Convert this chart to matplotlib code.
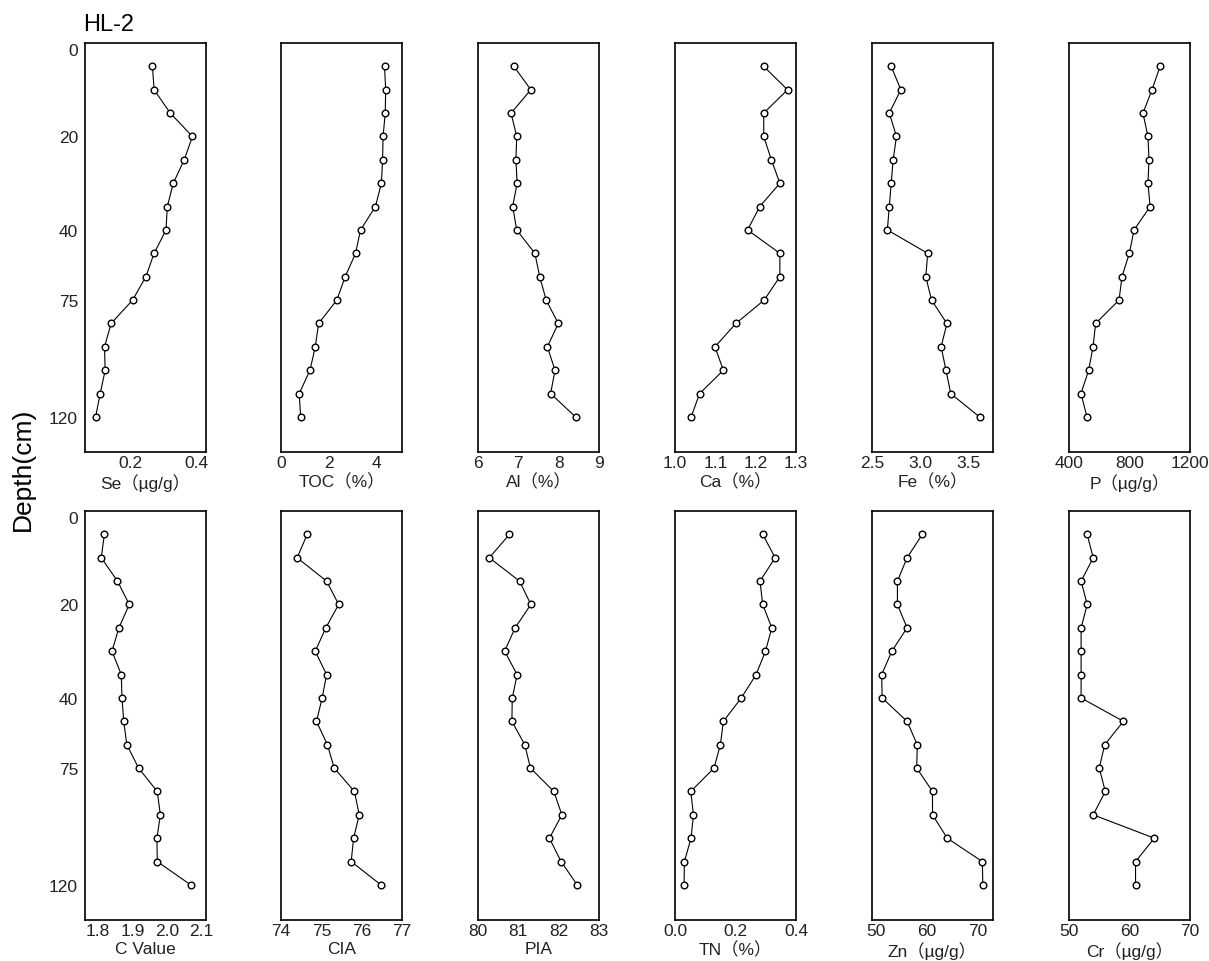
import matplotlib
matplotlib.use("Agg")
import matplotlib.pyplot as plt

plt.rcParams['font.family'] = ['Liberation Sans', 'Noto Sans CJK SC']

# sample position (index down the core) and the depth labels used on the axis
sample_pos = [1, 2, 3, 4, 5, 6, 7, 8, 9, 10, 11, 12, 13, 14, 15, 16]
depth_tick_pos = [0.26, 4, 8, 11, 16]
depth_tick_labels = ['0', '20', '40', '75', '120']

se = [0.268, 0.273, 0.322, 0.389, 0.364, 0.331, 0.313, 0.309, 0.273, 0.248, 0.208, 0.143, 0.123, 0.125, 0.110, 0.096]
toc = [4.32, 4.37, 4.35, 4.26, 4.24, 4.19, 3.94, 3.32, 3.11, 2.68, 2.33, 1.57, 1.43, 1.21, 0.76, 0.82]
al = [6.89, 7.31, 6.82, 6.96, 6.94, 6.97, 6.86, 6.96, 7.41, 7.53, 7.69, 7.99, 7.72, 7.91, 7.80, 8.42]
ca = [1.220, 1.279, 1.220, 1.220, 1.239, 1.260, 1.210, 1.180, 1.260, 1.260, 1.221, 1.151, 1.099, 1.120, 1.061, 1.040]
fe = [2.70, 2.80, 2.68, 2.755, 2.72, 2.70, 2.68, 2.66, 3.08, 3.06, 3.12, 3.28, 3.22, 3.27, 3.32, 3.62]
p = [1002, 949, 889, 922, 929, 922, 936, 830, 799, 750, 731, 576, 559, 530, 479, 519]

c_value = [1.819, 1.810, 1.857, 1.891, 1.861, 1.841, 1.868, 1.870, 1.875, 1.884, 1.918, 1.972, 1.981, 1.971, 1.972, 2.069]
cia = [74.65, 74.40, 75.13, 75.43, 75.11, 74.85, 75.13, 75.02, 74.88, 75.15, 75.32, 75.82, 75.94, 75.80, 75.74, 76.48]
pia = [80.78, 80.28, 81.03, 81.31, 80.92, 80.66, 80.97, 80.85, 80.84, 81.16, 81.30, 81.88, 82.08, 81.77, 82.06, 82.46]
tn = [0.290, 0.331, 0.281, 0.290, 0.320, 0.299, 0.268, 0.219, 0.160, 0.150, 0.129, 0.052, 0.061, 0.053, 0.031, 0.030]
zn = [59.1, 56.1, 54.2, 54.2, 56.1, 53.1, 51.1, 51.2, 56.1, 58.1, 58.0, 61.1, 61.1, 64.0, 70.9, 71.0]
cr = [53.0, 54.0, 52.0, 53.0, 52.0, 52.0, 52.0, 52.0, 59.0, 55.9, 55.0, 56.0, 54.0, 64.1, 61.0, 61.0]

# (values, x label, x ticks, x tick labels, x limits)
top_row = [
    (se, 'Se（µg/g）', [0.2, 0.4], ['0.2', '0.4'], (0.064, 0.43)),
    (toc, 'TOC（%）', [0, 2, 4], ['0', '2', '4'], (0, 5.05)),
    (al, 'Al（%）', [6, 7, 8, 9], ['6', '7', '8', '9'], (6, 9)),
    (ca, 'Ca（%）', [1.0, 1.1, 1.2, 1.3], ['1.0', '1.1', '1.2', '1.3'], (1.0, 1.3)),
    (fe, 'Fe（%）', [2.5, 3.0, 3.5], ['2.5', '3.0', '3.5'], (2.5, 3.76)),
    (p, 'P（µg/g）', [400, 800, 1200], ['400', '800', '1200'], (400, 1200)),
]
bottom_row = [
    (c_value, 'C Value', [1.8, 1.9, 2.0, 2.1], ['1.8', '1.9', '2.0', '2.1'], (1.763, 2.113)),
    (cia, 'CIA', [74, 75, 76, 77], ['74', '75', '76', '77'], (74, 77)),
    (pia, 'PIA', [80, 81, 82, 83], ['80', '81', '82', '83'], (80, 83)),
    (tn, 'TN（%）', [0.0, 0.2, 0.4], ['0.0', '0.2', '0.4'], (0, 0.4)),
    (zn, 'Zn（µg/g）', [50, 60, 70], ['50', '60', '70'], (49.2, 73)),
    (cr, 'Cr（µg/g）', [50, 60, 70], ['50', '60', '70'], (50, 70)),
]

W, H = 1209, 962
fig = plt.figure(figsize=(W / 100, H / 100), dpi=100)

col_left = [85, 281, 478, 675, 872, 1069]
box_w = 121
box_h = 409
row_top = [44, 512]

for r, panels in enumerate([top_row, bottom_row]):
    for c, (vals, label, ticks, tlabels, lim) in enumerate(panels):
        rect = [col_left[c] / W, 1 - (row_top[r] + box_h) / H, box_w / W, box_h / H]
        ax = fig.add_axes(rect)
        ax.plot(vals, sample_pos, '-o', color='black', lw=0.8,
                ms=4.8, mfc='white', mec='black', mew=1.0)
        ax.set_xlim(*lim)
        ax.set_ylim(17.5, 0)
        ax.set_xticks(ticks)
        ax.set_xticklabels(tlabels)
        ax.set_xlabel(label, fontsize=12.5, labelpad=2.5, color='#222222')
        if c == 0:
            ax.set_yticks(depth_tick_pos)
            ax.set_yticklabels(depth_tick_labels)
        else:
            ax.set_yticks([])
        ax.tick_params(length=0, labelsize=12.5, colors='#222222')
        ax.tick_params(axis='x', pad=2)
        ax.tick_params(axis='y', pad=5)
        for s in ax.spines.values():
            s.set_linewidth(1.2)
            s.set_color('black')

fig.text(83 / W, 1 - 25 / H, 'HL-2', fontsize=17, va='center', ha='left')
fig.text(23 / W, 1 - 469 / H, 'Depth(cm)', fontsize=19, rotation=90,
         va='center', ha='center')

fig.savefig('out.png', dpi=100)
